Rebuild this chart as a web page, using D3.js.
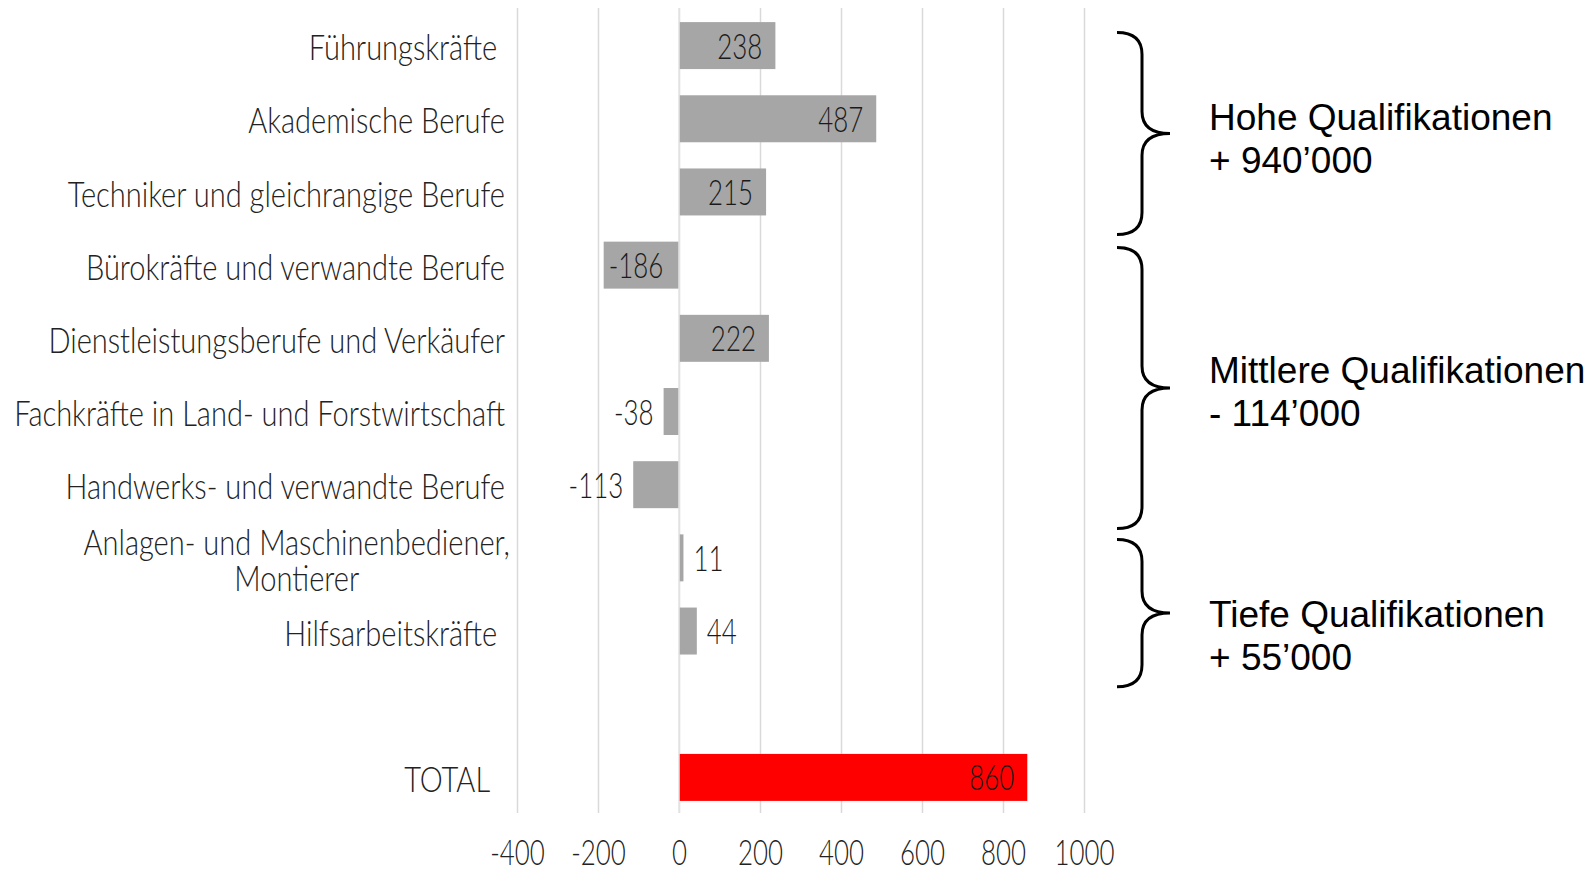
<!DOCTYPE html>
<html>
<head>
<meta charset="utf-8">
<script src="https://cdn.jsdelivr.net/npm/d3@7"></script>
<style>
  html, body { margin: 0; background: #ffffff; }
  svg { display: block; }
  svg text { white-space: pre; }
</style>
</head>
<body>
<svg id="chart" width="1593" height="873"></svg>
<script>
// Occupational groups and change in employment (thousands)
const categories = [
  "Führungskräfte ",
  "Akademische Berufe",
  "Techniker und gleichrangige Berufe",
  "Bürokräfte und verwandte Berufe",
  "Dienstleistungsberufe und Verkäufer",
  "Fachkräfte in Land- und Forstwirtschaft",
  "Handwerks- und verwandte Berufe",
  "Anlagen- und Maschinenbediener,\nMontierer",
  "Hilfsarbeitskräfte "
];
const values = [238, 487, 215, -186, 222, -38, -113, 11, 44];

const totalLabel = "TOTAL  ";
const totalValue = 860;

const xTicks = [-400, -200, 0, 200, 400, 600, 800, 1000];

// Qualification groups bracketed on the right
const groupNames   = ["Hohe Qualifikationen", "Mittlere Qualifikationen", "Tiefe Qualifikationen"];
const groupChanges = ["+ 940’000", "- 114’000", "+ 55’000"];

// ---- layout ----
const plotTop = 9, plotBottom = 814;
const xLeft = 517, xRight = 1084;
const labelRight = 505;
const squeezeDigits = 0.74;   // horizontal squeeze for the light condensed look
const squeezeWords = 0.83;
const fontFamily = "Lato, 'Open Sans', sans-serif";
const fontSize = 35;

// bracket geometry in row units (top, bottom) and first text baseline
const braceRows = [[0.32, 3.08], [3.26, 7.10], [7.25, 9.26]];
const braceTextRow = [1.65, 5.11, 8.44];

const svg = d3.select("#chart");
const fmt = v => String(v);   // plain hyphen for negatives

const rows = categories.concat([" ", totalLabel]);
const rowValues = values.concat([null, totalValue]);

const x = d3.scaleLinear().domain([-400, 1000]).range([xLeft, xRight]);
const y = d3.scaleBand().domain(rows).range([plotTop, plotBottom])
  .paddingInner(0.358).paddingOuter(0.179);
const step = y.step();
const rowY = r => plotTop + r * step;

// vertical gridlines
const grid = svg.append("g")
  .attr("transform", `translate(0,${plotTop - 1})`)
  .call(d3.axisBottom(x).tickValues(xTicks).tickSize(plotBottom - plotTop).tickFormat(""));
grid.select(".domain").remove();
grid.selectAll("line").attr("stroke", "#d9d9d9").attr("stroke-width", 1.5);

// bars
const barData = rows.map((r, i) => ({ key: r, value: rowValues[i], total: r === totalLabel }))
  .filter(d => d.value !== null);

svg.append("g").selectAll("rect").data(barData).join("rect")
  .attr("x", d => x(Math.min(0, d.value)))
  .attr("width", d => Math.abs(x(d.value) - x(0)))
  .attr("y", d => y(d.key))
  .attr("height", y.bandwidth())
  .attr("fill", d => d.total ? "#ff0000" : "#a6a6a6");

// zero line drawn over the bars
svg.append("line")
  .attr("x1", x(0)).attr("x2", x(0))
  .attr("y1", plotTop - 1).attr("y2", plotBottom - 1)
  .attr("stroke", "#e4e4e4").attr("stroke-width", 1.5);

function lightText(sel) {
  return sel.attr("font-family", fontFamily)
    .attr("font-weight", 300)
    .attr("font-size", fontSize)
    .attr("fill", "#1a1a1a");
}

// value labels: inside the bar end when they fit, otherwise just outside
const pad = 10;
const valueG = svg.append("g");
barData.forEach(d => {
  const cy = y(d.key) + y.bandwidth() / 2;
  const t = valueG.append("text").text(fmt(d.value));
  lightText(t).attr("dominant-baseline", "central");
  const w = t.node().getComputedTextLength() * squeezeDigits;
  const barW = Math.abs(x(d.value) - x(0));
  const inside = w + 12 <= barW;
  let px, anchor;
  if (d.value >= 0) {
    if (inside) { px = x(d.value) - pad - 3; anchor = "end"; }
    else { px = x(d.value) + pad; anchor = "start"; }
  } else {
    if (inside) { px = x(d.value) + 5; anchor = "start"; }
    else { px = x(d.value) - pad; anchor = "end"; }
  }
  t.attr("text-anchor", anchor)
   .attr("transform", `translate(${px},${cy}) scale(${squeezeDigits},1)`);
});

// category labels
const catG = svg.append("g");
rows.forEach(r => {
  if (!r.trim()) return;
  const cy = y(r) + y.bandwidth() / 2;
  const lines = r.split("\n");
  const t = catG.append("text");
  lightText(t).attr("fill", "#222222");
  if (lines.length === 1) {
    t.text(r).attr("text-anchor", "end").attr("dominant-baseline", "central")
     .attr("transform", `translate(${labelRight},${cy + 1}) scale(${squeezeWords},1)`);
  } else {
    const lh = 36;
    lines.forEach((ln, k) => {
      t.append("tspan").attr("x", 0)
        .attr("y", (k - (lines.length - 1) / 2) * lh)
        .attr("dominant-baseline", "central").text(ln);
    });
    t.attr("text-anchor", "middle");
    const widths = [];
    t.selectAll("tspan").each(function () { widths.push(this.getComputedTextLength() * squeezeWords); });
    const cx = labelRight + 5 - d3.max(widths) / 2;
    t.attr("transform", `translate(${cx},${cy + 2}) scale(${squeezeWords},1)`);
  }
});

// x axis tick labels
const axisG = svg.append("g")
  .attr("transform", `translate(0,${plotBottom})`)
  .call(d3.axisBottom(x).tickValues(xTicks).tickSize(0).tickFormat(fmt));
axisG.select(".domain").remove();
axisG.selectAll("text").each(function () {
  const t = d3.select(this);
  lightText(t).attr("fill", "#222222")
    .attr("y", null).attr("dy", null)
    .attr("transform", `translate(0,51) scale(${squeezeDigits},1)`);
});

// brackets and group annotations
const braceX0 = 1117, braceXs = 1142, braceXt = 1170, br = 22;
function bracePath(top, bottom) {
  const mid = (top + bottom) / 2;
  const p = d3.path();
  p.moveTo(braceX0, top);
  p.quadraticCurveTo(braceXs, top, braceXs, top + br);
  p.lineTo(braceXs, mid - br);
  p.quadraticCurveTo(braceXs, mid, braceXt, mid);
  p.quadraticCurveTo(braceXs, mid, braceXs, mid + br);
  p.lineTo(braceXs, bottom - br);
  p.quadraticCurveTo(braceXs, bottom, braceX0, bottom);
  return p.toString();
}
const annG = svg.append("g");
groupNames.forEach((name, i) => {
  annG.append("path")
    .attr("d", bracePath(rowY(braceRows[i][0]), rowY(braceRows[i][1])))
    .attr("fill", "none").attr("stroke", "#000").attr("stroke-width", 3);
  const by = rowY(braceTextRow[i]);
  const t = annG.append("text")
    .attr("font-family", "'Liberation Sans', Arial, sans-serif")
    .attr("font-size", 37).attr("fill", "#000");
  t.append("tspan").attr("x", 1209).attr("y", by).text(name);
  t.append("tspan").attr("x", 1209).attr("y", by + 43).text(groupChanges[i]);
});
</script>
</body>
</html>
